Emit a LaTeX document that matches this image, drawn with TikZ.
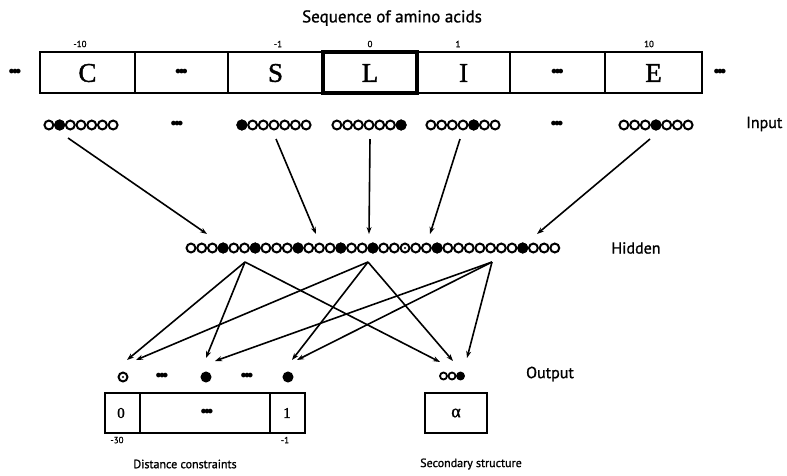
\documentclass[tikz,border=0pt]{standalone}
\usepackage{fontspec}
\newfontfamily\lblfont[FakeBold=1.2]{PT Sans}
\newfontfamily\serfont[FakeBold=1.5]{Liberation Serif}
\newfontfamily\dvfont{DejaVu Sans}
\usetikzlibrary{arrows.meta}
\newcommand\ellbar{{\dvfont\fontsize{16}{16}\selectfont\textbullet\kern-0.38em\textbullet\kern-0.38em\textbullet}}
\begin{document}
\begin{tikzpicture}[x=1pt,y=-1pt,
  unit/.style={circle,draw,line width=2pt,minimum size=8.9pt,inner sep=0pt,fill=white},
  on/.style={unit,fill=black},
  small/.style={circle,draw,line width=1.8pt,minimum size=7pt,inner sep=0pt,fill=white},
  arr/.style={-{Stealth[length=7pt,width=5pt]},line width=1.6pt},
  ell/.style={inner sep=0pt},
  big/.style={font=\lblfont\fontsize{16}{16}\selectfont,inner sep=0pt},
  idx/.style={font=\lblfont\fontsize{9}{9}\selectfont,inner sep=0pt},
  aa/.style={font=\serfont\fontsize{27}{27}\selectfont,inner sep=0pt},
  captxt/.style={font=\lblfont\fontsize{12}{12}\selectfont,inner sep=0pt},
  box/.style={line width=1.5pt}]
\useasboundingbox (0,0) rectangle (787,475);

% title and indices
\node[big,font=\lblfont\fontsize{17}{17}\selectfont] (title) at (392,18) {Sequence of amino acids};
\node[idx] (im10) at (80,44) {-10};
\node[idx] (im1) at (278,44) {-1};
\node[idx] (i0) at (370,44) {0};
\node[idx] (i1) at (458,44) {1};
\node[idx] (i10) at (649,44) {10};

% sequence boxes
\draw[box] (40,52) rectangle (702,93);
\foreach \x in {135,228,510,605} \draw[box] (\x,52) -- (\x,93);
\draw[line width=3.5pt] (323,52) rectangle (417,93);
\node[aa] (aC) at (87.5,73) {C};
\node[ell] (aD1) at (181.5,73) {\ellbar};
\node[aa] (aS) at (275.5,73) {S};
\node[aa] (aL) at (370,73) {L};
\node[aa] (aI) at (463.5,73) {I};
\node[ell] (aD2) at (557.5,73) {\ellbar};
\node[aa] (aE) at (653.5,73) {E};
\node[ell] (aDl) at (15,73) {\ellbar};
\node[ell] (aDr) at (720,73) {\ellbar};

% input units
\foreach \g/\cx/\f in {C/81/1, S/274/0, L/369/6, I/463/4, E/656/3}{
  \foreach \i in {0,...,6}
    \node[unit] (in\g\i) at ({\cx+10.7*(\i-3)},125) {};
  \node[on] at (in\g\f) {};
}
\node[ell] (inD1) at (177,125) {\ellbar};
\node[ell] (inD2) at (557,125) {\ellbar};
\node[big,anchor=west] (lInput) at (746,124) {Input};

% hidden units
\foreach \i in {0,...,34}
  \node[unit] (h\i) at ({191+10.7*\i},248) {};
\foreach \i in {3,6,10,14,17,23,31}
  \node[on] at (h\i) {};
\fill (h20) circle (1.2);
\node[big] (lHidden) at (636,248) {Hidden};

% input -> hidden
\coordinate (sC) at (68,138);  \coordinate (tC) at (207,234);
\coordinate (sS) at (276,139); \coordinate (tS) at (316,234);
\coordinate (sL) at (370,139); \coordinate (tL) at (369,234);
\coordinate (sI) at (460,139); \coordinate (tI) at (430,234);
\coordinate (sE) at (650,139); \coordinate (tE) at (537,234);
\foreach \g in {C,S,L,I,E} \draw[arr] (s\g) -- (t\g);

% output units
\node[unit] (o0) at (123,377) {};
\fill (o0) circle (1.2);
\node[ell] (oD1) at (162,377) {\ellbar};
\node[on] (o1) at (206,377) {};
\node[ell] (oD2) at (247,377) {\ellbar};
\node[on] (o2) at (288,377) {};
\node[small] (s0) at (443.5,376) {};
\node[small] (s1) at (452,376) {};
\node[small,fill=black] (s2) at (460.5,376) {};
\node[big] (lOutput) at (550,374) {Output};

% hidden -> output
\coordinate (p1) at (245,262);
\coordinate (p2) at (368,262);
\coordinate (p3) at (492,262);
\coordinate (t1a) at (127,360); \coordinate (t1b) at (206,358); \coordinate (t1c) at (440,362);
\coordinate (t2a) at (136,360); \coordinate (t2b) at (292,360); \coordinate (t2c) at (453,361);
\coordinate (t3a) at (215,361); \coordinate (t3b) at (297,360); \coordinate (t3c) at (467,358);
\foreach \p in {1,2,3}
  \foreach \q in {a,b,c}
    \draw[arr] (p\p) -- (t\p\q);

% bottom boxes
\draw[box] (105,393) rectangle (305,433);
\draw[box] (140,393) -- (140,433);
\draw[box] (270,393) -- (270,433);
\node[font=\serfont\fontsize{15}{15}\selectfont,inner sep=0pt] (b0) at (121,413) {0};
\node[ell] (bD) at (207,413) {\ellbar};
\node[font=\serfont\fontsize{15}{15}\selectfont,inner sep=0pt] (b1) at (287,413) {1};
\node[idx] (bm30) at (117,440) {-30};
\node[idx] (bm1) at (285,440) {-1};
\draw[box] (425,393) rectangle (487,433);
\node[font=\serfont\fontsize{18}{18}\selectfont,inner sep=0pt] (alpha) at (456,413) {α};
\node[captxt] (lDist) at (185,464) {Distance constraints};
\node[captxt] (lSec) at (471,464) {Secondary structure};
\end{tikzpicture}
\end{document}
